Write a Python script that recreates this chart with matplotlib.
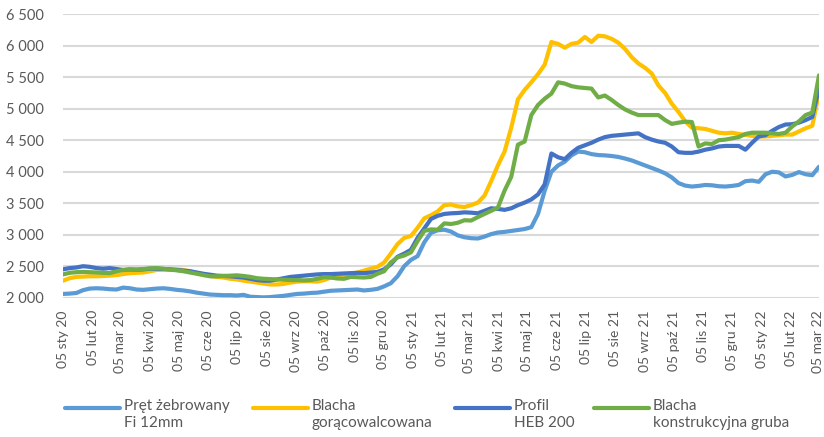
import matplotlib
matplotlib.use("Agg")
import matplotlib.pyplot as plt
from matplotlib.lines import Line2D
from matplotlib.ticker import FuncFormatter
import pandas as pd

plt.rcParams['font.family'] = ['Lato', 'DejaVu Sans']

# weekly prices, first week 05 Jan 2020
pret = [2060, 2065, 2075, 2120, 2145, 2150, 2145, 2135, 2130, 2160,
        2150, 2130, 2125, 2135, 2145, 2150, 2140, 2125, 2115, 2100,
        2080, 2065, 2050, 2045, 2040, 2040, 2035, 2045, 2015, 2010,
        2005, 2010, 2020, 2030, 2045, 2060, 2065, 2075, 2080, 2095,
        2110, 2115, 2120, 2125, 2130, 2115, 2125, 2140, 2180, 2230,
        2340, 2500, 2600, 2660, 2880, 3030, 3070, 3080, 3050, 2990,
        2960, 2945, 2940, 2970, 3010, 3035, 3045, 3060, 3075, 3090,
        3120, 3330, 3700, 4000, 4100, 4160, 4260, 4320, 4310, 4280,
        4265, 4260, 4250, 4235, 4210, 4180, 4140, 4100, 4060, 4020,
        3975, 3910, 3820, 3780, 3765, 3775, 3790, 3785, 3770, 3765,
        3775, 3790, 3850, 3860, 3840, 3960, 4000, 3990, 3925, 3950,
        3995, 3960, 3945, 4080]

blacha_gor = [2270, 2310, 2330, 2335, 2340, 2340, 2345, 2350, 2360, 2375,
              2390, 2395, 2400, 2420, 2440, 2445, 2450, 2450, 2440, 2420,
              2390, 2360, 2345, 2330, 2320, 2300, 2290, 2270, 2255, 2240,
              2225, 2210, 2210, 2220, 2240, 2255, 2260, 2260, 2255, 2280,
              2320, 2340, 2360, 2380, 2400, 2430, 2460, 2490, 2560, 2700,
              2850, 2950, 2980, 3110, 3260, 3310, 3370, 3470, 3480, 3450,
              3440, 3470, 3510, 3620, 3850, 4100, 4320, 4700, 5150, 5300,
              5420, 5550, 5700, 6060, 6030, 5970, 6030, 6050, 6140, 6060,
              6160, 6150, 6110, 6050, 5950, 5820, 5720, 5650, 5560, 5370,
              5250, 5080, 4950, 4800, 4700, 4690, 4680, 4650, 4620, 4610,
              4620, 4600, 4585, 4570, 4560, 4560, 4570, 4580, 4590, 4590,
              4640, 4690, 4730, 5260]

profil = [2450, 2470, 2480, 2500, 2490, 2470, 2460, 2470, 2455, 2440,
          2450, 2445, 2450, 2460, 2460, 2455, 2450, 2440, 2430, 2420,
          2400, 2380, 2365, 2350, 2345, 2340, 2330, 2320, 2300, 2280,
          2270, 2270, 2290, 2310, 2330, 2340, 2350, 2360, 2370, 2375,
          2375, 2380, 2385, 2390, 2395, 2390, 2400, 2410, 2450, 2530,
          2650, 2700, 2760, 2950, 3100, 3250, 3300, 3330, 3340, 3345,
          3355, 3350, 3340, 3380, 3420, 3410, 3395, 3420, 3470, 3510,
          3560, 3640, 3800, 4290, 4230, 4200, 4300, 4380, 4420, 4460,
          4510, 4550, 4570, 4580, 4590, 4600, 4610, 4550, 4510, 4480,
          4460, 4400, 4310, 4300, 4300, 4320, 4350, 4370, 4400, 4410,
          4410, 4410, 4350, 4460, 4560, 4580, 4650, 4710, 4750, 4755,
          4780, 4820, 4870, 5330]

blacha_konstr = [2370, 2395, 2405, 2410, 2405, 2400, 2395, 2390, 2420, 2440,
                 2445, 2445, 2455, 2465, 2470, 2460, 2445, 2435, 2420, 2400,
                 2380, 2360, 2340, 2340, 2345, 2350, 2355, 2345, 2330, 2310,
                 2300, 2295, 2290, 2285, 2280, 2280, 2275, 2280, 2300, 2325,
                 2320, 2305, 2300, 2330, 2325, 2320, 2330, 2380, 2420, 2560,
                 2640, 2670, 2720, 2900, 3060, 3085, 3080, 3180, 3170, 3190,
                 3230, 3225, 3280, 3330, 3380, 3430, 3700, 3920, 4430, 4480,
                 4900, 5060, 5160, 5240, 5420, 5400, 5360, 5340, 5330, 5320,
                 5180, 5210, 5140, 5060, 4990, 4940, 4900, 4900, 4900, 4900,
                 4820, 4760, 4780, 4795, 4790, 4400, 4450, 4440, 4500, 4510,
                 4530, 4550, 4600, 4620, 4620, 4620, 4610, 4600, 4620, 4720,
                 4800, 4900, 4940, 5530]

series_names = ['Pręt żebrowany\nFi 12mm', 'Blacha\ngorącowalcowana',
                'Profil\nHEB 200', 'Blacha\nkonstrukcyjna gruba']
series_colors = ['#5B9BD5', '#FFC000', '#4472C4', '#70AD47']
months_pl = ['sty', 'lut', 'mar', 'kwi', 'maj', 'cze',
             'lip', 'sie', 'wrz', 'paź', 'lis', 'gru']

dates = pd.date_range('2020-01-05', periods=len(pret), freq='7D')

W, H = 824, 437
fig = plt.figure(figsize=(W / 100, H / 100), dpi=100)
ax = fig.add_axes([63 / W, 1 - 297.7 / H, 756 / W, 283.4 / H])

for vals, name, col in zip([pret, blacha_gor, profil, blacha_konstr],
                           series_names, series_colors):
    ax.plot(dates, vals, color=col, linewidth=3, label=name,
            solid_capstyle='round', solid_joinstyle='round')

ax.set_ylim(2000, 6500)
ax.set_yticks(range(2000, 6501, 500))
ax.yaxis.set_major_formatter(FuncFormatter(lambda v, p: f'{int(v):,}'.replace(',', ' ')))
ax.set_xlim(dates[0], dates[-1])

ticks = pd.date_range('2020-01-01', '2022-03-05', freq='MS') + pd.Timedelta(days=4)
ax.set_xticks(ticks)
ax.set_xticklabels([f'05 {months_pl[d.month - 1]} {d.year % 100:02d}' for d in ticks],
                   rotation=90)

ax.grid(axis='y', color='#d9d9d9', linewidth=1.5)
ax.set_axisbelow(True)
for s in ax.spines.values():
    s.set_visible(False)
ax.tick_params(axis='both', length=0, colors='#595959')
ax.tick_params(axis='y', labelsize=10.5, pad=14)
ax.tick_params(axis='x', labelsize=10, pad=9)

# legend below the chart: handle level with the first text line
leg_x = [65, 253, 455, 594]
leg_y = 408
for x0, name, col in zip(leg_x, series_names, series_colors):
    fig.add_artist(Line2D([x0 / W, (x0 + 55) / W], [1 - leg_y / H] * 2,
                          transform=fig.transFigure, color=col, linewidth=3,
                          solid_capstyle='round'))
    fig.text((x0 + 59) / W, 1 - (leg_y - 9) / H, name, fontsize=11,
             color='#595959', va='top', ha='left', linespacing=1.3)

fig.savefig('out.png', dpi=100)
